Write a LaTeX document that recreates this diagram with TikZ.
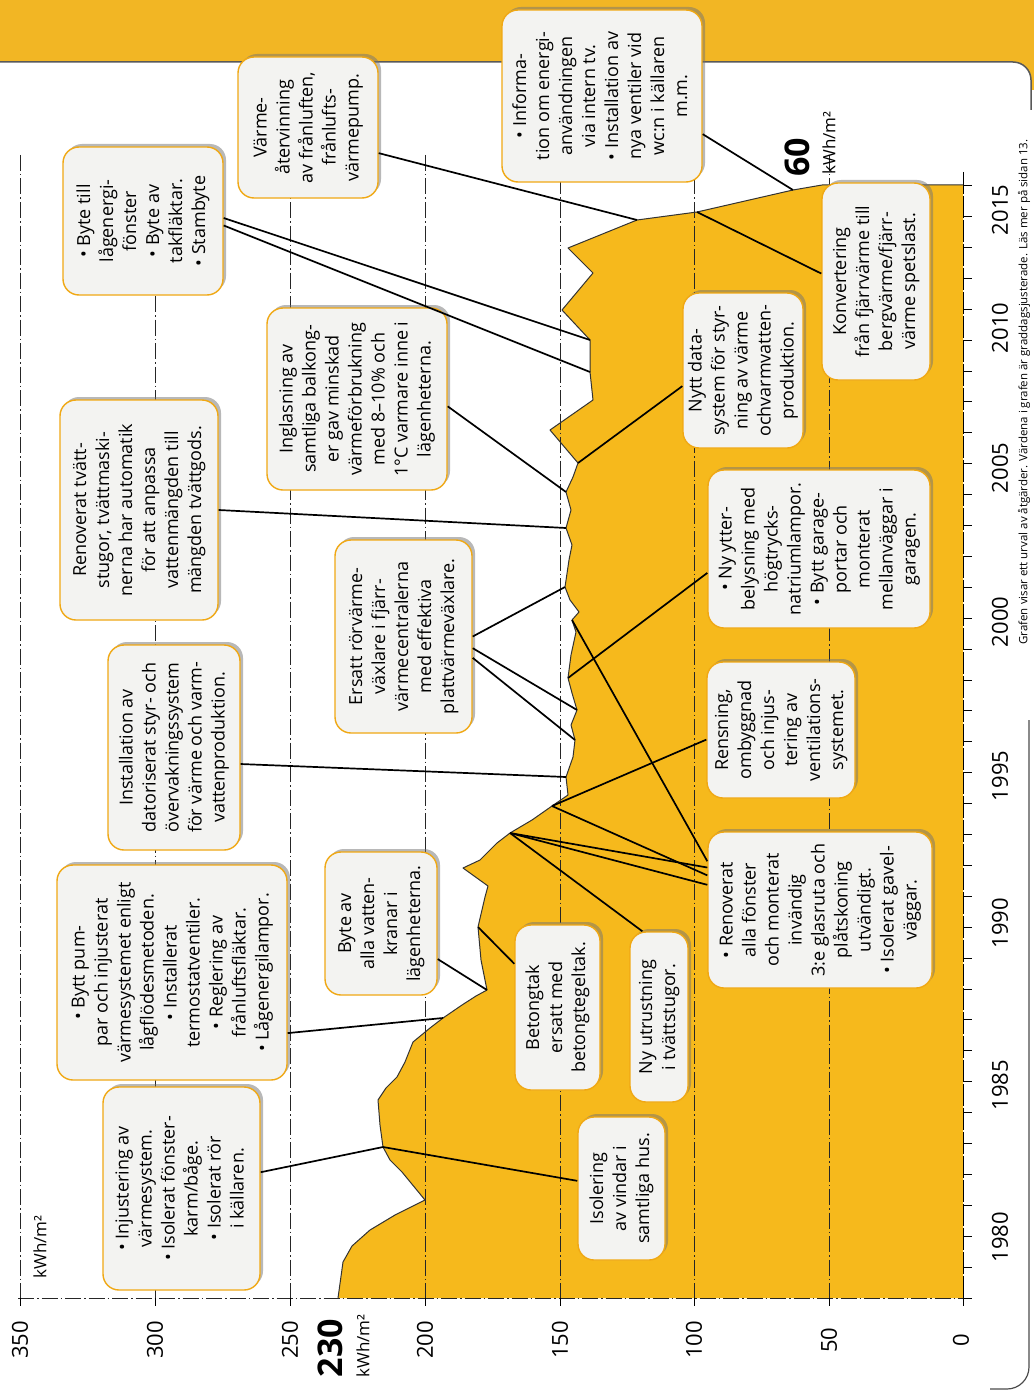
\documentclass[tikz,border=0pt]{standalone}
\usepackage{fontspec}
\setmainfont{Open Sans}
\usetikzlibrary{calc,shadows}

\definecolor{chartyellow}{RGB}{246,185,28}
\definecolor{bandyellow}{RGB}{242,182,36}
\definecolor{boxedge}{RGB}{240,168,20}
\definecolor{boxfill}{RGB}{243,243,241}

\newcommand{\rtext}[1]{\rotatebox{90}{\begin{tabular}{@{}c@{}}#1\end{tabular}}}

% outline of the yearly values, bottom (1978) to top (2014)
\def\curvepath{(338,1298) -- (343,1262) -- (352,1246) -- (370,1230) -- (395,1215)
  -- (425,1200) -- (402,1172) -- (390,1160) -- (383,1147) coordinate (q1)
  -- (380,1125) -- (378,1100) -- (386,1088) -- (397,1077) -- (405,1062)
  -- (413,1042) -- (430,1028) -- (443,1018) coordinate (q2) -- (462,1005)
  -- (476,996) -- (487,990) coordinate (q3) -- (481,960) -- (478,927) coordinate (q4)
  -- (485,897) -- (488,886) -- (463,868) -- (480,860) -- (497,843)
  -- (510,833) coordinate (q5) -- (532,820) -- (552,806) coordinate (q6)
  -- (568,795) -- (566,777) coordinate (q9) -- (573,757) -- (575,740) coordinate (q14)
  -- (571,725) -- (577,710) coordinate (q13) -- (572,693) -- (568,678) coordinate (q8)
  -- (571,655) -- (576,632) -- (572,620) coordinate (q7) -- (579,612) -- (570,600)
  -- (565,587) coordinate (q12) -- (569,560) -- (572,545) -- (566,528) coordinate (q10)
  -- (571,510) -- (566,492) coordinate (q11) -- (573,477) -- (578,463) coordinate (q19)
  -- (550,430) -- (593,400) -- (590,372) coordinate (q16) -- (590,340) coordinate (q15)
  -- (562,310) -- (593,273) -- (568,248) -- (637,220) coordinate (q17)
  -- (697,212) coordinate (q20) -- (793,190) coordinate (q18) -- (822,185) -- (963,185)}

\tikzset{
  mbox/.style={draw=boxedge, line width=1.4pt, fill=boxfill, rounded corners=16pt,
    inner sep=0pt, drop shadow={shadow xshift=3pt, shadow yshift=3pt, fill=black!55},
    font=\fontsize{18}{23}\selectfont},
  grid/.style={black!85, line width=0.9pt, dash pattern=on 16pt off 3pt on 1.5pt off 3pt},
  conn/.style={black, line width=1.7pt},
  ticklab/.style={rotate=90, font=\fontsize{22}{22}\selectfont},
  unit/.style={rotate=90, font=\fontsize{17}{17}\selectfont},
}

\begin{document}
\begin{tikzpicture}[x=1pt,y=-1pt]
  \useasboundingbox (0,0) rectangle (1034,1391);

  % page frame
  \fill[bandyellow] (0,0) rectangle (1034,90);
  \fill[white, rounded corners=18pt] (-40,62) rectangle (1031,1420);
  \draw[black!65, line width=1.5pt, rounded corners=18pt] (0,62) -- (1031,62) -- (1031,110);
  \draw[black!70, line width=1.2pt, rounded corners=22pt] (1029,720) -- (1029,1389) -- (990,1389);

  % values
  \fill[chartyellow] \curvepath -- (963,1298) -- cycle;

  % grid and axes
  \foreach \gx in {20,155,290,425,560,694,829}
    \draw[grid] (\gx,155) -- (\gx,1298);
  \draw[grid] (18,1298) -- (963,1298);
  \foreach \gx in {20,155,290,425,560,694,829,963}
    \draw[black, line width=0.9pt] (\gx,1298) -- (\gx,1306);
  \draw[black, line width=1pt, dash pattern=on 22pt off 2pt] (963,172) -- (963,1298);
  \foreach \k in {0,...,36}
    \draw[black, line width=0.9pt] (963,{1298-30.9*\k}) -- (972,{1298-30.9*\k});
  \draw[black!80, line width=1pt, line join=round] \curvepath;

  % axis labels
  \foreach \v/\gx in {350/20,300/155,250/290,200/425,150/560,100/694,50/829,0/961}
    \node[ticklab] (v\v) at (\gx,1340) {\v};
  \foreach \yr/\ly in {1980/1237,1985/1085,1990/923,1995/776,2000/622,2005/468,2010/328,2015/210}
    \node[ticklab] (y\yr) at (1000,\ly) {\yr};
  \node[unit] (unittop) at (40,1247) {kWh/m²};
  \node[rotate=90, font=\bfseries\fontsize{34}{34}\selectfont] (start) at (330,1348) {230};
  \node[unit] (startunit) at (363,1346) {kWh/m²};
  \node[rotate=90, anchor=west, font=\bfseries\fontsize{34}{34}\selectfont] (final) at (797,180) {60};
  \node[unit, anchor=west] (finalunit) at (829,178) {kWh/m²};
  \node[rotate=90, font=\fontsize{11.5}{12}\selectfont] (note) at (1024,392)
    {Grafen visar ett urval av åtgärder. Värdena i grafen är graddagsjusterade. Läs mer på sidan 13.};

  % measures
  \node[mbox, minimum width=157pt, minimum height=203pt] (b1) at (181.5,1188.5)
    {\rtext{• Injustering av\\ värmesystem.\\ • Isolerat fönster-\\ karm/båge.\\ • Isolerat rör\\ i källaren.}};
  \node[mbox, minimum width=87pt, minimum height=143pt] (b2) at (621.5,1188.5)
    {\rtext{Isolering\\ av vindar i\\ samtliga hus.}};
  \node[mbox, minimum width=230pt, minimum height=215pt] (b3) at (172,972.5)
    {\rtext{• Bytt pum-\\ par och injusterat\\ värmesystemet enligt\\ lågflödesmetoden.\\ • Installerat\\ termostatventiler.\\ • Reglering av\\ frånluftsfläktar.\\ • Lågenergilampor.}};
  \node[mbox, minimum width=132pt, minimum height=205pt] (b4) at (174,747.5)
    {\rtext{Installation av\\ datoriserat styr- och\\ övervakningssystem\\ för värme och varm-\\ vattenproduktion.}};
  \node[mbox, minimum width=158pt, minimum height=220pt] (b5) at (139,510)
    {\rtext{Renoverat tvätt-\\ stugor, tvättmaski-\\ nerna har automatik\\ för att anpassa\\ vattenmängden till\\ mängden tvättgods.}};
  \node[mbox, minimum width=160pt, minimum height=148pt] (b6) at (143,221)
    {\rtext{• Byte till\\ lågenergi-\\ fönster\\ • Byte av\\ takfläktar.\\ • Stambyte}};
  \node[mbox, minimum width=140pt, minimum height=141pt] (b7) at (308,127.5)
    {\rtext{Värme-\\ återvinning\\ av frånluften,\\ frånlufts-\\ värmepump.}};
  \node[mbox, minimum width=200pt, minimum height=172pt] (b8) at (602,96)
    {\rtext{• Informa-\\ tion om energi-\\ användningen\\ via intern tv.\\ • Installation av\\ nya ventiler vid\\ wc:n i källaren\\ m.m.}};
  \node[mbox, minimum width=180pt, minimum height=182pt] (b9) at (357,399)
    {\rtext{Inglasning av\\ samtliga balkong-\\ er gav minskad\\ värmeförbrukning\\ med 8–10\% och\\ 1°C varmare inne i\\ lägenheterna.}};
  \node[mbox, minimum width=137pt, minimum height=193pt] (b10) at (403.5,636.5)
    {\rtext{Ersatt rörvärme-\\ växlare i fjärr-\\ värmecentralerna\\ med effektiva\\ plattvärmeväxlare.}};
  \node[mbox, minimum width=112pt, minimum height=143pt] (b11) at (381,923.5)
    {\rtext{Byte av\\ alla vatten-\\ kranar i\\ lägenheterna.}};
  \node[mbox, minimum width=85pt, minimum height=165pt] (b12) at (557.5,1007.5)
    {\rtext{Betongtak\\ ersatt med\\ betongtegeltak.}};
  \node[mbox, minimum width=58pt, minimum height=170pt] (b13) at (659,1017)
    {\rtext{Ny utrustning\\ i tvättstugor.}};
  \node[mbox, minimum width=224pt, minimum height=156pt] (b14) at (820,910)
    {\rtext{• Renoverat\\ alla fönster\\ och monterat\\ invändig\\ 3:e glasruta och\\ plåtskoning\\ utvändigt.\\ • Isolerat gavel-\\ väggar.}};
  \node[mbox, minimum width=148pt, minimum height=136pt] (b15) at (781,730)
    {\rtext{Rensning,\\ ombyggnad\\ och injus-\\ tering av\\ ventilations-\\ systemet.}};
  \node[mbox, minimum width=222pt, minimum height=158pt] (b16) at (819,549)
    {\rtext{• Ny ytter-\\ belysning med\\ högtrycks-\\ natriumlampor.\\ • Bytt garage-\\ portar och\\ monterat\\ mellanväggar i\\ garagen.}};
  \node[mbox, minimum width=120pt, minimum height=155pt] (b17) at (743,370.5)
    {\rtext{Nytt data-\\ system för styr-\\ ning av värme\\ ochvarmvatten-\\ produktion.}};
  \node[mbox, minimum width=108pt, minimum height=197pt] (b18) at (876,281.5)
    {\rtext{Konvertering\\ från fjärrvärme till\\ bergvärme/fjärr-\\ värme spetslast.}};

  % connectors
  \draw[conn] (b1) -- (q1);
  \draw[conn] (b2) -- (q1);
  \draw[conn] ($(b3.north east)!0.78!(b3.south east)$) -- (q2);
  \draw[conn] (b11) -- (q3);
  \draw[conn] (b12) -- (q4);
  \draw[conn] ($(b13.north west)!0.22!(b13.north east)$) -- (q5);
  \draw[conn] (q5) -- ($(b14.north west)!0.23!(b14.south west)$);
  \draw[conn] (q5) -- ($(b14.north west)!0.34!(b14.south west)$);
  \draw[conn] (q6) -- ($(b14.north west)!0.28!(b14.south west)$);
  \draw[conn] (q7) -- ($(b14.north west)!0.19!(b14.south west)$);
  \draw[conn] (q6) -- ($(b15.north west)!0.57!(b15.south west)$);
  \draw[conn] (q8) -- ($(b16.north west)!0.65!(b16.south west)$);
  \draw[conn] ($(b4.north east)!0.58!(b4.south east)$) -- (q9);
  \draw[conn] (b5.east) -- (q10);
  \draw[conn] ($(b9.north east)!0.54!(b9.south east)$) -- (q11);
  \draw[conn] ($(b10.north east)!0.50!(b10.south east)$) -- (q12);
  \draw[conn] ($(b10.north east)!0.56!(b10.south east)$) -- (q13);
  \draw[conn] ($(b10.north east)!0.61!(b10.south east)$) -- (q14);
  \draw[conn] ($(b6.north east)!0.48!(b6.south east)$) -- (q15);
  \draw[conn] ($(b6.north east)!0.53!(b6.south east)$) -- (q16);
  \draw[conn] ($(b7.north east)!0.68!(b7.south east)$) -- (q17);
  \draw[conn] ($(b8.north east)!0.72!(b8.south east)$) -- (q18);
  \draw[conn] ($(b17.north west)!0.6!(b17.south west)$) -- (q19);
  \draw[conn] ($(b18.north west)!0.46!(b18.south west)$) -- (q20);
\end{tikzpicture}
\end{document}
